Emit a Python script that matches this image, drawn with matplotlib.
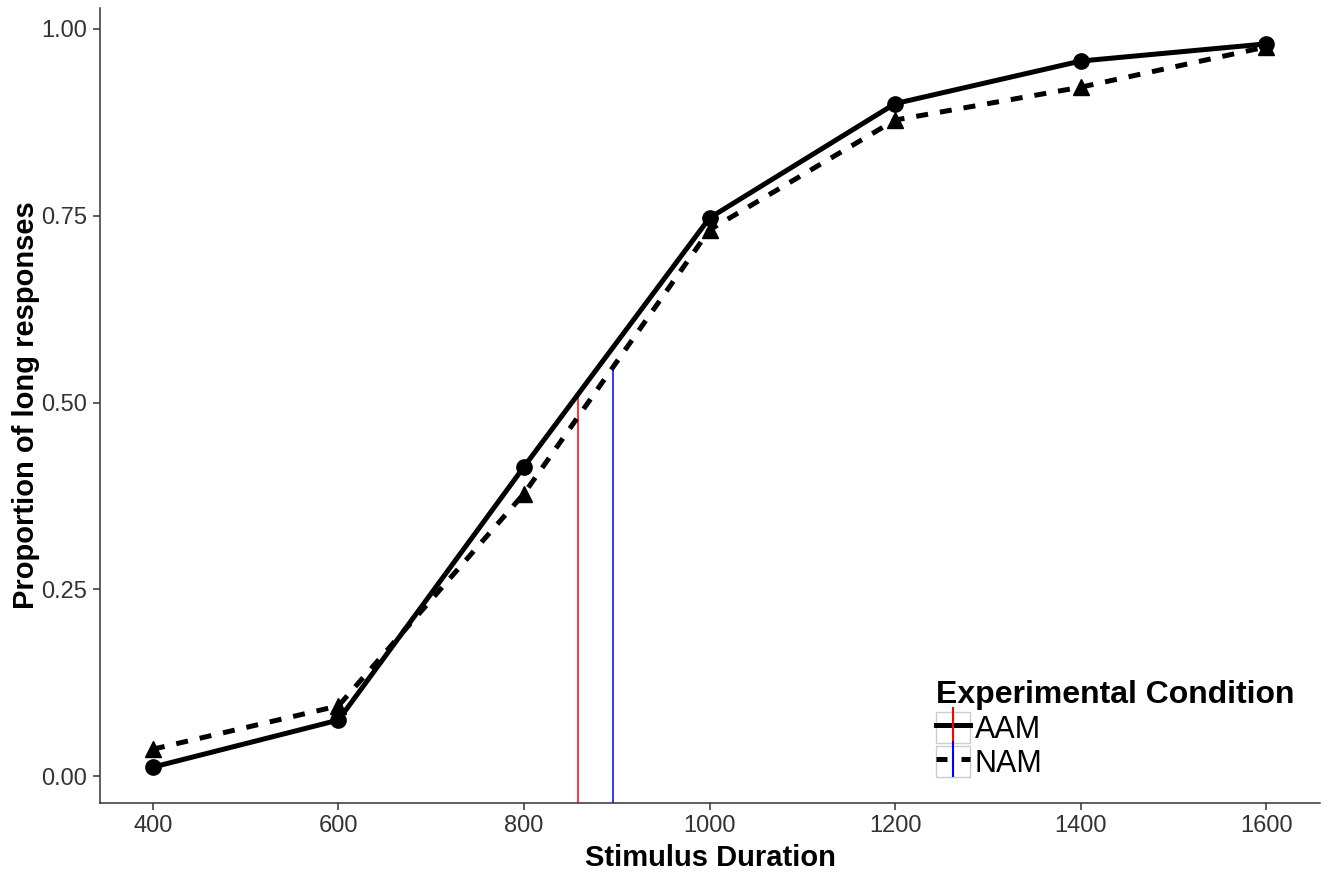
import matplotlib.pyplot as plt
from matplotlib.lines import Line2D
from matplotlib.patches import Rectangle
from matplotlib.legend_handler import HandlerTuple

plt.rcParams['font.family'] = ['Liberation Sans', 'DejaVu Sans']

durations = [400, 600, 800, 1000, 1200, 1400, 1600]
aam = [0.012, 0.075, 0.414, 0.747, 0.900, 0.957, 0.980]
nam = [0.036, 0.094, 0.378, 0.731, 0.878, 0.922, 0.976]
conditions = ["AAM", "NAM"]
pse_x = [858, 896]
pse_y = [0.51, 0.55]
pse_colors = ["#FF0000", "#0000FF"]

fig = plt.figure(figsize=(13.33, 8.73), dpi=100)
ax = fig.add_axes([100 / 1333, 1 - 803 / 873, 1220 / 1333, 795 / 873])

ylo, yhi = -0.036, 1.028
ax.set_xlim(343, 1658)
ax.set_ylim(ylo, yhi)

# PSE markers from bottom of panel up to the curve
for x, y, c in zip(pse_x, pse_y, pse_colors):
    ax.vlines(x, ylo, y, color=c, lw=1.1, zorder=1)

ax.plot(durations, aam, color='black', lw=3.6, ls='-', marker='o', ms=11,
        zorder=3, solid_capstyle='butt')
ax.plot(durations, nam, color='black', lw=3.6, ls=(0, (2.4, 2.4)), marker='^',
        ms=12, zorder=3, dash_capstyle='butt')

ax.spines['top'].set_visible(False)
ax.spines['right'].set_visible(False)
for s in ['left', 'bottom']:
    ax.spines[s].set_color('#333333')
    ax.spines[s].set_linewidth(1.1)

ax.set_xticks([400, 600, 800, 1000, 1200, 1400, 1600])
ax.set_yticks([0, 0.25, 0.5, 0.75, 1.0])
ax.set_yticklabels(["0.00", "0.25", "0.50", "0.75", "1.00"])
ax.tick_params(axis='both', labelsize=17, labelcolor='#333333',
               color='#333333', length=5, width=1.1, pad=4)

ax.set_xlabel("Stimulus Duration", fontsize=21, fontweight='bold', labelpad=5)
ax.set_ylabel("Proportion of long responses", fontsize=21, fontweight='bold',
              labelpad=1)

handles = []
for ls, c in zip(['-', (0, (2.2, 2.8))], pse_colors):
    box = Rectangle((0, 0), 1, 1, facecolor='white', edgecolor='#CCCCCC', lw=1)
    ln = Line2D([], [], color='black', lw=3.6, ls=ls, dash_capstyle='butt')
    vl = Line2D([], [], color=c, lw=0, marker='|', ms=26, mew=1.5)
    handles.append((box, ln, vl))

leg = fig.legend(handles, conditions, loc='upper left',
                 bbox_to_anchor=(936 / 1333, 1 - 680 / 873),
                 handler_map={tuple: HandlerTuple(ndivide=1, pad=0)},
                 title="Experimental Condition", frameon=False,
                 fontsize=22, handlelength=1.12, handleheight=1.2,
                 handletextpad=0.15, labelspacing=0.05, borderpad=0,
                 borderaxespad=0, alignment='left',
                 title_fontproperties={'weight': 'bold', 'size': 23})

fig.savefig("out.png", dpi=100)
